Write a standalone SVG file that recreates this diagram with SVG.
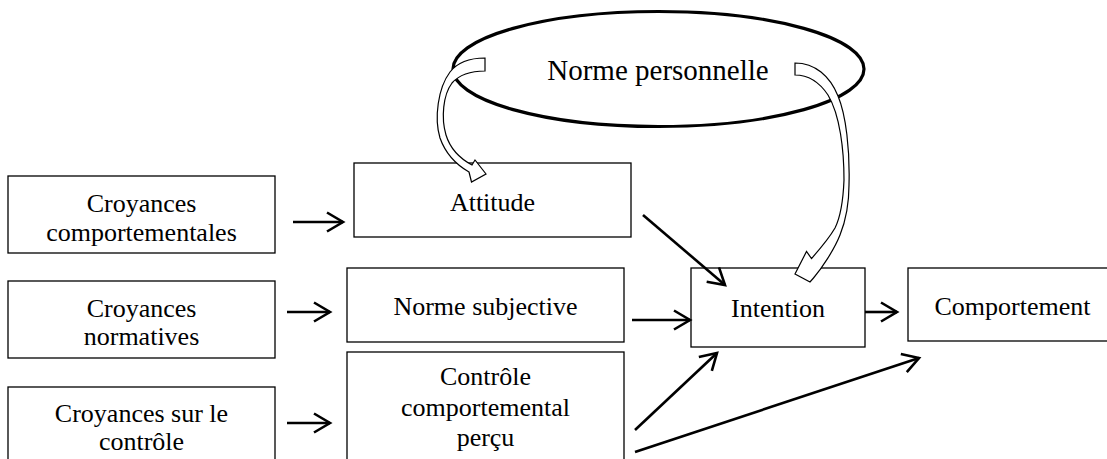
<svg xmlns="http://www.w3.org/2000/svg" width="1107" height="459" viewBox="0 0 1107 459">
<style>
.box{fill:#fff;stroke:#000;stroke-width:1.3}
.t{font-family:"Liberation Serif","Times New Roman",serif;font-size:26px;fill:#000;text-anchor:middle}
.big{font-size:29px}
.con{fill:none;stroke:#000;stroke-width:2.6;marker-end:url(#ah)}
.blk{fill:#fff;stroke:#000;stroke-width:1.2;stroke-linejoin:miter}
</style>
<defs>
<marker id="ah" markerUnits="userSpaceOnUse" markerWidth="40" markerHeight="40" viewBox="-20 -20 40 40" refX="0" refY="0" orient="auto" overflow="visible">
<path d="M-16,-9.5 L0,0 L-16,9.5" fill="none" stroke="#000" stroke-width="2.6" stroke-linejoin="miter"/>
</marker>
</defs>
<rect width="1107" height="459" fill="#fff"/>

<g id="norme-personnelle">
<ellipse cx="658.5" cy="69" rx="205.5" ry="57.5" fill="#fff" stroke="#000" stroke-width="3.2"/>
<text class="t big" x="658" y="80">Norme personnelle</text>
</g>

<g id="croyances-comportementales">
<rect class="box" x="8" y="176" width="267" height="77"/>
<text class="t" x="141.5" y="212">Croyances</text>
<text class="t" x="141.5" y="241">comportementales</text>
</g>
<g id="croyances-normatives">
<rect class="box" x="8" y="281" width="267" height="77"/>
<text class="t" x="141.5" y="317">Croyances</text>
<text class="t" x="141.5" y="345">normatives</text>
</g>
<g id="croyances-controle">
<rect class="box" x="8" y="387" width="267" height="90"/>
<text class="t" x="141.5" y="422">Croyances sur le</text>
<text class="t" x="141.5" y="450">contrôle</text>
</g>
<g id="attitude">
<rect class="box" x="354" y="163" width="277" height="74"/>
<text class="t" x="492.5" y="211">Attitude</text>
</g>
<g id="norme-subjective">
<rect class="box" x="347" y="268" width="277" height="74"/>
<text class="t" x="485.5" y="315">Norme subjective</text>
</g>
<g id="controle-percu">
<rect class="box" x="347" y="352" width="277" height="120"/>
<text class="t" x="485.5" y="385">Contrôle</text>
<text class="t" x="485.5" y="416">comportemental</text>
<text class="t" x="485.5" y="446">perçu</text>
</g>
<g id="intention">
<rect class="box" x="691" y="268" width="174" height="79"/>
<text class="t" x="778" y="317">Intention</text>
</g>
<g id="comportement">
<rect class="box" x="908" y="268" width="220" height="73"/>
<text class="t" x="1012.5" y="315">Comportement</text>
</g>

<g id="connectors">
<line class="con" x1="293" y1="222" x2="343" y2="222"/>
<line class="con" x1="287" y1="312" x2="330" y2="312"/>
<line class="con" x1="287" y1="423" x2="330" y2="423"/>
<line class="con" x1="643" y1="215" x2="725" y2="285"/>
<line class="con" x1="632" y1="320" x2="690" y2="320"/>
<line class="con" x1="635" y1="430" x2="717" y2="353"/>
<line class="con" x1="635" y1="452" x2="919" y2="358"/>
<line class="con" x1="865" y1="312" x2="897" y2="312"/>
<path class="blk" d="M485,58 C470,58 457,63 450,72 C438,88 434,118 440,138 C445,152 455,164 469,172 L471.5,182 L486,174 L475,160 L472,165 C459,158 450,148 446,135 C441,118 443,95 452,83 C460,74 472,71 485,71 Z"/>
<path class="blk" d="M795,63 L795,75 C806,75 818,80 828,95 C840,115 844,150 844,180 C843,205 840,218 835,228 C828,240 818,251 811.5,258.5 L806.5,251.5 L795,274 L810,282 L813.5,278 C822,268 834,250 840,235 C846,220 849,200 849,185 C850,150 846,115 838,96 C830,76 815,63 795,63 Z"/>
</g>
</svg>
